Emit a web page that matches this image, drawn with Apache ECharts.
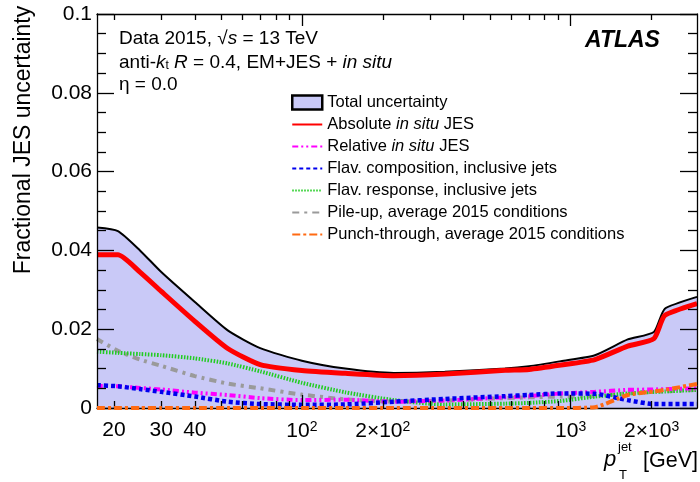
<!DOCTYPE html>
<html><head><meta charset="utf-8">
<script src="https://cdn.jsdelivr.net/npm/echarts@6/dist/echarts.min.js"></script>
<style>html,body{margin:0;padding:0;background:#fff}#c{width:700px;height:482px;pointer-events:none}</style>
</head><body><div id="c"></div>
<script>
// ---- data (pT in GeV, fractional JES uncertainties) ----
const ptGrid      = [17.3, 20.7, 25, 30, 40, 53, 70, 100, 145, 220, 340, 570, 700, 920, 1230, 1630, 2040, 2240, 2950];
const totalUnc    = [0.0458, 0.0449, 0.0400, 0.0345, 0.0269, 0.0197, 0.0152, 0.0120, 0.0100, 0.0089, 0.0092, 0.0100, 0.0106, 0.0119, 0.0134, 0.0174, 0.0193, 0.0252, 0.0282];
const absoluteJES = [0.0389, 0.0389, 0.0345, 0.0296, 0.0220, 0.0151, 0.0110, 0.0095, 0.0088, 0.0082, 0.0086, 0.0096, 0.0098, 0.0109, 0.0123, 0.0157, 0.0176, 0.0235, 0.0265];
const relativeJES = [0.0056, 0.0055, 0.0051, 0.0047, 0.0039, 0.0033, 0.0025, 0.0020, 0.0021, 0.0016, 0.0019, 0.0027, 0.0030, 0.0037, 0.0041, 0.0046, 0.0047, 0.0048, 0.0050];
const flavComp    = [0.0058, 0.0055, 0.0048, 0.0041, 0.0029, 0.0016, 0.0010, 0.0008, 0.0009, 0.0016, 0.0023, 0.0030, 0.0033, 0.0037, 0.0036, 0.0020, 0.0010, 0.0010, 0.0010];
const flavResp    = [0.0143, 0.0140, 0.0137, 0.0134, 0.0126, 0.0113, 0.0093, 0.0064, 0.0040, 0.0020, 0.0009, 0.0011, 0.0013, 0.0018, 0.0029, 0.0037, 0.0041, 0.0042, 0.0046];
const pileUp      = [0.0175, 0.0145, 0.0123, 0.0107, 0.0081, 0.0062, 0.0050, 0.0034, 0.0022, 0.0016, 0.0019, 0.0025, 0.0027, 0.0029, 0.0030, 0.0037, 0.0041, 0.0042, 0.0046];
const punchThru   = [0, 0, 0, 0, 0, 0, 0, 0, 0, 0, 0, 0, 0, 0, 0.0002, 0.0033, 0.0042, 0.0046, 0.0061];

const seriesNames = ['Total uncertainty', 'Absolute in situ JES', 'Relative in situ JES',
  'Flav. composition, inclusive jets', 'Flav. response, inclusive jets',
  'Pile-up, average 2015 conditions', 'Punch-through, average 2015 conditions'];

const xLabelValues = [20, 30, 40, 100, 200, 1000, 2000];
const xLabelTexts  = ['20', '30', '40', '10{s|2}', '2×10{s|2}', '10{s|3}', '2×10{s|3}'];
const xMinorTicks  = [20, 30, 40, 50, 60, 70, 80, 90, 200, 300, 400, 500, 600, 700, 800, 900, 2000];
const xMajorTicks  = [100, 1000];
const X_MIN = 17.3, X_MAX = 2950;
const Y_MIN = 0, Y_MAX = 0.1, Y_STEP = 0.02;

// ---- chart ----
const L = Math.log10;
const pts = vals => ptGrid.map((p, i) => [L(p), vals[i]]);
const FONT = 'Liberation Sans, Arial, sans-serif';
const FILL = '#c9c9f7';
const AX_Z = 10;

function xAxisBase(position, ticks, len, showLine) {
  return {
    type: 'value', position: position, min: L(X_MIN), max: L(X_MAX), z: AX_Z, silent: true,
    axisLine: { show: showLine, onZero: false, lineStyle: { color: '#000', width: 1.3 } },
    axisTick: { show: true, inside: true, length: len, customValues: ticks.map(L), lineStyle: { color: '#000', width: 1.3 } },
    axisLabel: { show: false }, splitLine: { show: false }, axisPointer: { show: false }
  };
}
const xAxes = [
  xAxisBase('bottom', xMinorTicks, 7, true),
  xAxisBase('bottom', xMajorTicks, 13, false),
  xAxisBase('top', xMinorTicks, 6, true),
  xAxisBase('top', xMajorTicks, 12, false)
];
xAxes[0].axisLabel = {
  show: true, customValues: xLabelValues.map(L), margin: 12, color: '#000', fontFamily: FONT, fontSize: 21,
  formatter: v => {
    let b = 0;
    xLabelValues.forEach((x, i) => { if (Math.abs(L(x) - v) < Math.abs(L(xLabelValues[b]) - v)) b = i; });
    return xLabelTexts[b];
  },
  rich: { s: { fontSize: 14, fontFamily: FONT, verticalAlign: 'top', padding: [0, 0, 8, 0] } }
};

function yAxisBase(position, labels) {
  return {
    type: 'value', position: position, min: Y_MIN, max: Y_MAX, interval: Y_STEP, z: AX_Z, silent: true,
    axisLine: { show: true, lineStyle: { color: '#000', width: 1.3 } },
    axisTick: { show: true, inside: true, length: 17, lineStyle: { color: '#000', width: 1.3 } },
    minorTick: { show: true, splitNumber: 4, length: 9, lineStyle: { color: '#000', width: 1.3 } },
    axisLabel: { show: labels, color: '#000', fontFamily: FONT, fontSize: 21, margin: 5 },
    splitLine: { show: false }, minorSplitLine: { show: false }, axisPointer: { show: false }
  };
}
const yAxes = [yAxisBase('left', true), yAxisBase('right', false)];

function lineSeries(name, vals, color, width, dash, z) {
  return {
    name: name, type: 'line', data: pts(vals), symbol: 'none', smooth: 0.2, z: z,
    silent: true, legendHoverLink: false, emphasis: { disabled: true },
    lineStyle: { color: color, width: width, type: dash, cap: 'butt' },
    itemStyle: { color: color }
  };
}
const series = [
  { name: seriesNames[0], type: 'line', data: pts(totalUnc), symbol: 'none', smooth: 0.2, z: 1,
    silent: true, legendHoverLink: false, emphasis: { disabled: true },
    lineStyle: { color: '#000', width: 2 }, itemStyle: { color: FILL }, areaStyle: { color: FILL, opacity: 1 } },
  lineSeries(seriesNames[5], pileUp, '#9a9a9a', 4, [7, 5, 3, 5], 3),
  lineSeries(seriesNames[4], flavResp, '#22cc22', 4, [1.5, 1.5], 4),
  lineSeries(seriesNames[2], relativeJES, '#ff00ff', 4, [6, 3, 2, 3, 2, 3], 5),
  lineSeries(seriesNames[3], flavComp, '#0000ee', 4.5, [4, 3], 6),
  lineSeries(seriesNames[1], absoluteJES, '#ff0000', 5, 'solid', 7),
  lineSeries(seriesNames[6], punchThru, '#ff6a13', 4, [8, 3, 3, 3], 12)
];

const tStyle = { color: '#000', fontFamily: FONT, fontSize: 19, fontWeight: 'normal', lineHeight: 19,
  rich: { i: { fontFamily: FONT, fontSize: 19, fontStyle: 'italic' },
           sub: { fontFamily: FONT, fontSize: 12, verticalAlign: 'bottom', lineHeight: 19 } } };
const titles = [
  { text: 'Data 2015, √{i|s} = 13 TeV', left: 119, top: 29, padding: 0, textStyle: tStyle },
  { text: 'anti-{i|k}{sub|t} {i|R} = 0.4, EM+JES + {i|in situ}', left: 119, top: 53, padding: 0, textStyle: tStyle },
  { text: 'η = 0.0', left: 119, top: 75, padding: 0, textStyle: tStyle },
  { text: 'ATLAS', left: 585, top: 29, padding: 0,
    textStyle: { color: '#000', fontFamily: FONT, fontSize: 23, fontWeight: 'bold', fontStyle: 'italic', lineHeight: 23 } }
];

const legendData = [{ name: seriesNames[0], icon: 'rect', itemStyle: { color: FILL, borderColor: '#000', borderWidth: 2.5, opacity: 1 } }]
  .concat(seriesNames.slice(1).map(n => ({ name: n, itemStyle: { opacity: 0 } })));

const axisTitles = [
  { type: 'text', x: 24, y: 140, rotation: Math.PI / 2, z: 20, silent: true,
    style: { text: 'Fractional JES uncertainty', fill: '#000', font: '23px ' + FONT, align: 'center', verticalAlign: 'middle' } },
  { type: 'text', x: 698, y: 461, z: 20, silent: true,
    style: { text: '[GeV]', fill: '#000', font: '21.5px ' + FONT, align: 'right', verticalAlign: 'middle' } },
  { type: 'text', x: 604, y: 460, z: 20, silent: true,
    style: { text: 'p', fill: '#000', font: 'italic 22px ' + FONT, align: 'left', verticalAlign: 'middle' } },
  { type: 'text', x: 618, y: 447, z: 20, silent: true,
    style: { text: 'jet', fill: '#000', font: '13px ' + FONT, align: 'left', verticalAlign: 'middle' } },
  { type: 'text', x: 619, y: 475, z: 20, silent: true,
    style: { text: 'T', fill: '#000', font: '13px ' + FONT, align: 'left', verticalAlign: 'middle' } }
];

const chart = echarts.init(document.getElementById('c'));
chart.setOption({
  animation: false,
  backgroundColor: '#fff',
  title: titles,
  grid: { left: 97, right: 3, top: 14, bottom: 74 },
  xAxis: xAxes,
  yAxis: yAxes,
  legend: {
    data: legendData, orient: 'vertical', left: 291, top: 94, padding: 0,
    itemWidth: 30, itemHeight: 14, itemGap: 5, selectedMode: false, silent: true,
    formatter: n => n.replace('in situ', '{i|in situ}'),
    textStyle: { color: '#000', fontFamily: FONT, fontSize: 16.5, lineHeight: 14,
      rich: { i: { fontFamily: FONT, fontSize: 16.5, fontStyle: 'italic', lineHeight: 14 } } }
  },
  graphic: axisTitles,
  series: series
});
</script></body></html>
